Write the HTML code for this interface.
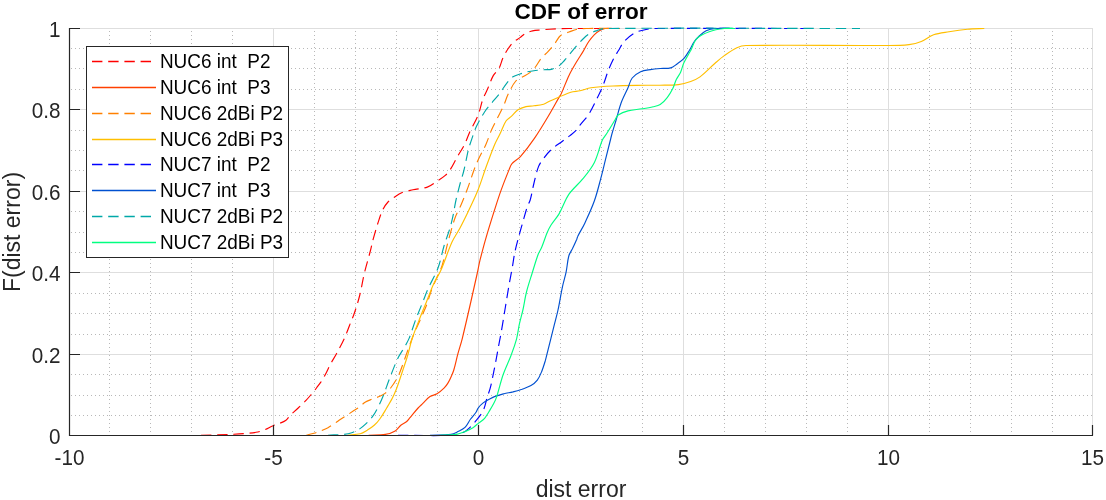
<!DOCTYPE html>
<html><head><meta charset="utf-8"><style>
html,body{margin:0;padding:0;background:#fff;width:1106px;height:500px;overflow:hidden}
svg{display:block;will-change:transform}
text{font-family:"Liberation Sans",sans-serif}
</style></head><body>
<svg width="1106" height="500" viewBox="0 0 1106 500">
<rect width="1106" height="500" fill="#fff"/>
<path d="M109.5,31V436M150.5,31V436M191.5,31V436M232.5,31V436M314.5,31V436M355.5,31V436M396.5,31V436M437.5,31V436M519.5,31V436M560.5,31V436M601.5,31V436M642.5,31V436M724.5,31V436M765.5,31V436M806.5,31V436M847.5,31V436M929.5,31V436M970.5,31V436M1011.5,31V436M1052.5,31V436M71,415.5H1093M71,395.5H1093M71,374.5H1093M71,334.5H1093M71,313.5H1093M71,293.5H1093M71,252.5H1093M71,232.5H1093M71,211.5H1093M71,170.5H1093M71,150.5H1093M71,130.5H1093M71,89.5H1093M71,68.5H1093M71,48.5H1093" stroke="#b8b8b8" stroke-width="1" stroke-dasharray="1,3" fill="none"/>
<path d="M69.5,28V435M273.5,28V435M478.5,28V435M683.5,28V435M888.5,28V435M1092.5,28V435M69,435.5H1093M69,354.5H1093M69,272.5H1093M69,191.5H1093M69,109.5H1093M69,28.5H1093" stroke="#dedede" stroke-width="1" fill="none"/>
<g fill="none" stroke-width="1.15" stroke-linejoin="round">
<path d="M201.0,435.2C212.0,434.9 223.0,434.9 234.0,434.3C241.4,433.9 248.7,433.4 256.0,432.3C258.9,431.9 261.7,430.9 264.5,429.8C267.4,428.7 270.1,426.9 273.0,425.7C274.8,424.9 276.7,424.6 278.5,423.8C281.1,422.7 283.8,421.8 286.0,420.2C287.7,419.0 288.6,417.0 290.0,415.5C291.9,413.6 294.0,411.8 296.0,410.0C297.8,408.3 299.6,406.7 301.4,405.0C303.0,403.5 304.5,402.0 306.0,400.4C307.8,398.5 309.5,396.5 311.2,394.5C313.1,392.2 315.0,389.9 316.8,387.5C318.2,385.7 319.7,383.8 321.0,381.9C322.5,379.6 323.9,377.2 325.2,374.8C327.1,371.3 328.6,367.5 330.5,364.0C332.3,360.7 334.4,357.5 336.2,354.2C339.1,348.9 342.0,343.6 344.5,338.1C346.4,334.0 347.8,329.7 349.5,325.5C351.1,321.3 353.0,317.2 354.4,313.0C356.4,307.1 358.3,301.1 359.8,295.0C361.6,287.9 362.6,280.6 364.3,273.4C366.2,265.5 368.6,257.8 370.6,250.0C371.6,246.1 372.3,242.2 373.4,238.3C375.1,232.3 376.8,226.3 378.8,220.4C380.1,216.4 381.4,212.4 383.3,208.7C384.5,206.3 386.2,204.0 388.0,202.0C389.5,200.4 391.4,199.1 393.2,197.9C396.1,196.0 399.0,193.8 402.2,192.5C405.6,191.1 409.4,190.6 413.0,189.8C417.7,188.8 422.7,188.7 427.3,187.1C430.6,186.0 433.4,183.6 436.3,181.7C439.4,179.7 442.5,177.8 445.3,175.4C447.1,173.9 448.7,172.0 450.0,170.0C452.8,165.6 455.0,160.8 457.6,156.3C459.7,152.6 462.3,149.1 464.2,145.3C466.4,140.8 467.9,136.0 470.0,131.4C472.5,126.0 475.8,120.9 478.0,115.4C480.1,110.2 480.9,104.6 482.8,99.4C484.0,96.2 485.7,93.2 487.1,90.1C489.3,85.2 490.8,80.1 493.4,75.4C494.8,72.8 497.6,71.0 499.0,68.4C500.9,64.9 501.5,60.8 503.2,57.2C504.6,54.3 506.3,51.5 508.1,48.8C509.6,46.6 511.1,44.3 513.0,42.5C515.1,40.5 517.7,39.3 520.0,37.6C521.9,36.2 523.5,34.5 525.6,33.4C527.8,32.2 530.2,31.4 532.6,30.9C535.3,30.3 538.2,30.2 541.0,29.9C543.8,29.6 546.6,29.3 549.4,29.2C555.9,28.9 562.5,28.6 569.0,28.5C579.3,28.4 589.7,28.5 600.0,28.5" stroke="#FF0000" stroke-dasharray="10.4,5.8"/>
<path d="M368.6,435.2C374.2,434.9 379.9,435.3 385.4,434.4C388.8,433.8 392.2,432.7 395.2,430.9C397.5,429.6 398.8,427.0 400.8,425.3C402.5,423.9 404.7,423.2 406.4,421.8C407.8,420.6 408.8,419.0 410.0,417.6C412.7,414.4 415.3,411.1 418.1,408.0C419.5,406.5 421.1,405.1 422.6,403.7C425.1,401.3 427.2,398.5 430.0,396.6C432.1,395.2 434.8,395.1 437.0,393.8C439.6,392.3 441.9,390.3 444.0,388.2C445.6,386.6 447.0,384.6 448.2,382.6C449.3,380.8 450.2,378.9 451.0,377.0C452.0,374.7 453.1,372.4 453.8,370.0C455.4,364.8 456.4,359.4 457.8,354.2C459.2,349.0 460.9,344.0 462.2,338.8C465.2,326.6 468.0,314.3 470.8,302.0C473.0,292.5 475.1,283.0 477.2,273.5C478.2,269.1 478.9,264.6 480.0,260.2C481.9,252.7 483.8,245.2 486.0,237.8C488.8,228.2 491.8,218.7 494.8,209.2C496.9,202.6 499.0,195.9 501.4,189.4C503.8,182.7 506.4,176.2 509.1,169.6C509.9,167.5 510.5,165.3 512.0,163.6C514.4,160.8 518.0,159.3 520.4,156.6C525.5,150.9 530.1,144.7 534.4,138.4C539.4,131.2 543.9,123.6 548.4,116.0C552.3,109.5 555.8,102.9 559.6,96.4C560.1,95.5 560.9,94.6 561.3,93.6C564.0,87.6 566.2,81.3 569.0,75.4C571.1,71.1 573.6,66.9 576.0,62.8C578.2,59.0 580.7,55.4 583.0,51.6C584.9,48.4 586.5,44.9 588.6,41.8C590.3,39.3 592.1,36.9 594.2,34.8C595.8,33.2 597.8,31.8 599.8,30.6C601.4,29.7 603.2,28.8 605.0,28.5C607.6,28.1 610.3,28.5 613.0,28.5" stroke="#FF4000"/>
<path d="M306.3,435.2C308.9,434.6 311.5,434.0 314.0,433.3C316.4,432.6 318.7,431.8 321.0,430.9C323.4,429.9 325.8,428.9 328.0,427.7C330.4,426.4 332.7,424.7 335.0,423.2C336.9,421.9 338.7,420.6 340.6,419.3C342.9,417.8 345.3,416.3 347.6,414.8C349.7,413.4 351.8,412.0 353.9,410.6C356.0,409.2 358.2,407.9 360.2,406.4C361.9,405.1 363.3,403.3 365.1,402.2C367.3,400.9 369.7,400.1 372.1,399.1C374.6,398.1 377.3,397.4 379.8,396.3C381.8,395.4 383.7,394.4 385.4,393.1C387.5,391.5 389.4,389.6 391.0,387.5C393.1,384.9 394.9,382.0 396.6,379.1C397.7,377.3 398.6,375.4 399.4,373.5C402.2,366.4 404.6,359.2 407.2,352.0C409.3,346.2 411.4,340.3 413.7,334.5C415.9,329.0 418.5,323.7 420.9,318.3C422.7,314.1 424.7,310.0 426.3,305.8C428.3,300.5 429.7,294.9 431.7,289.6C433.3,285.3 435.3,281.2 437.1,277.0C438.7,273.3 440.8,269.8 442.0,266.0C444.5,258.1 445.8,250.0 448.0,242.0C450.2,234.0 452.2,225.9 455.0,218.0C456.6,213.5 459.1,209.4 461.0,205.0C463.1,200.1 465.1,195.0 467.0,190.0C469.5,183.4 471.6,176.6 474.0,170.0C475.2,166.7 476.5,163.4 478.0,160.2C480.5,154.8 483.6,149.6 486.0,144.2C488.1,139.5 489.5,134.5 491.6,129.8C493.3,126.0 495.3,122.3 497.2,118.6C499.3,114.3 501.6,110.2 503.6,105.8C505.3,102.0 506.3,98.0 508.1,94.3C510.4,89.7 512.5,84.9 515.8,81.0C517.6,78.9 520.5,78.2 522.8,76.8C525.1,75.4 527.7,74.3 529.8,72.6C531.9,71.0 533.8,69.1 535.4,67.0C537.5,64.4 538.9,61.2 541.0,58.6C543.1,56.0 545.8,54.0 548.0,51.6C550.5,48.9 552.8,46.1 555.0,43.2C557.0,40.7 558.1,37.5 560.6,35.5C563.0,33.6 566.2,33.1 569.0,32.0C571.8,31.0 574.5,29.7 577.4,29.2C581.1,28.5 584.9,28.6 588.6,28.5C599.1,28.3 609.5,28.5 620.0,28.5" stroke="#FF8000" stroke-dasharray="10.4,5.8"/>
<path d="M347.6,435.2C351.8,434.7 356.1,434.7 360.2,433.7C362.7,433.1 365.0,431.5 367.2,430.2C369.6,428.7 372.1,427.2 374.2,425.3C376.3,423.4 378.2,421.3 379.8,419.0C382.4,415.4 384.5,411.6 386.8,407.8C388.7,404.6 390.7,401.3 392.4,398.0C393.7,395.5 394.9,392.9 395.9,390.3C397.2,387.1 398.3,383.8 399.4,380.5C400.6,377.0 401.7,373.5 402.9,370.0C404.4,365.3 406.1,360.7 407.5,356.0C409.2,350.4 410.2,344.6 412.0,339.0C414.1,332.6 416.7,326.4 419.1,320.1C421.4,314.1 423.9,308.2 426.3,302.2C428.7,296.2 430.8,290.1 433.5,284.2C435.7,279.3 438.9,274.9 441.0,270.0C445.0,260.8 447.9,251.1 452.0,242.0C454.2,237.1 457.5,232.7 460.0,228.0C462.8,222.7 465.4,217.4 468.0,212.0C471.4,204.7 475.0,197.5 478.0,190.0C480.7,183.5 482.7,176.7 485.0,170.0C485.6,168.3 486.2,166.7 486.8,165.0C489.4,158.1 491.9,151.0 494.8,144.2C496.4,140.4 498.6,136.8 500.4,133.0C502.3,129.0 503.6,124.7 506.0,121.0C507.4,119.0 509.8,117.9 511.6,116.2C513.8,114.1 515.5,111.5 518.0,109.8C520.4,108.2 523.2,107.3 526.0,106.6C528.6,106.0 531.3,106.2 534.0,105.8C537.2,105.4 540.5,105.1 543.6,104.2C545.9,103.5 547.8,102.0 550.0,101.0C556.9,98.0 563.7,94.6 570.8,92.2C573.7,91.2 577.0,91.5 580.0,90.8C583.7,90.0 587.2,88.3 591.0,87.8C598.3,86.7 605.6,86.3 613.0,86.0C624.0,85.5 635.0,85.5 646.0,85.3C650.7,85.2 655.3,85.3 660.0,85.2C666.1,85.1 672.3,85.3 678.4,84.6C682.6,84.1 686.7,82.9 690.7,81.5C694.0,80.3 697.2,79.0 700.0,76.9C705.5,72.8 710.1,67.5 715.3,63.0C718.3,60.4 721.3,57.7 724.6,55.4C728.5,52.6 732.5,49.7 736.9,47.7C739.7,46.4 742.9,45.5 746.0,45.5C793.5,44.8 841.0,45.8 888.5,45.5C895.3,45.5 902.2,45.4 909.0,44.6C913.2,44.1 917.4,43.1 921.3,41.5C925.6,39.8 929.2,36.4 933.6,34.8C938.5,33.1 943.8,32.6 949.0,31.7C955.1,30.7 961.2,29.8 967.4,29.2C973.0,28.7 978.7,28.7 984.3,28.5" stroke="#FFBF00"/>
<path d="M398.0,435.2C415.7,435.2 433.4,436.0 451.0,435.2C455.3,435.0 459.6,433.9 463.6,432.3C465.8,431.5 467.5,429.7 469.2,428.1C471.7,425.7 474.0,423.1 476.2,420.4C478.7,417.3 481.5,414.2 483.2,410.6C485.3,406.2 485.9,401.3 487.4,396.6C488.3,393.8 489.5,391.1 490.2,388.2C491.6,382.9 492.5,377.5 493.7,372.1C494.1,370.0 494.6,367.9 495.0,365.8C496.2,359.2 497.4,352.6 498.6,346.0C499.5,341.2 500.5,336.4 501.3,331.6C502.6,324.4 503.7,317.2 504.9,310.0C506.4,301.0 507.8,292.0 509.4,283.0C510.2,278.2 511.3,273.4 512.1,268.6C513.1,263.2 513.7,257.8 514.8,252.4C515.8,247.6 517.1,242.8 518.4,238.0C519.8,232.6 521.4,227.2 522.9,221.8C524.3,216.9 525.6,211.9 527.2,207.0C528.0,204.6 529.5,202.4 530.2,200.0C531.8,194.4 532.6,188.6 534.0,183.0C535.4,177.4 536.5,171.7 538.6,166.4C539.8,163.3 542.0,160.7 544.0,158.0C546.2,155.0 548.5,152.1 551.2,149.6C554.6,146.5 558.7,144.0 562.4,141.2C564.9,139.3 567.5,137.6 570.0,135.6C572.7,133.4 575.4,131.3 577.8,128.8C578.8,127.8 579.2,126.3 580.0,125.2C582.8,121.4 586.3,118.2 588.8,114.2C592.2,108.9 594.7,103.1 597.5,97.5C599.7,93.1 601.8,88.6 603.6,84.0C605.4,79.4 606.6,74.6 608.5,70.0C610.3,65.6 612.3,61.2 614.5,57.0C615.7,54.7 617.2,52.7 618.5,50.5C620.3,47.5 621.6,44.2 624.0,41.6C627.2,38.2 630.9,35.1 635.0,32.8C638.4,31.0 642.2,30.2 646.0,29.5C649.6,28.8 653.3,28.5 657.0,28.5C709.7,28.2 762.3,28.5 815.0,28.5" stroke="#0000FF" stroke-dasharray="10.4,5.8"/>
<path d="M430.0,435.2C437.0,434.9 444.1,435.3 451.0,434.4C453.5,434.1 455.8,432.7 458.0,431.6C460.4,430.4 463.1,429.3 465.0,427.4C467.4,425.0 468.6,421.7 470.6,419.0C472.4,416.6 474.5,414.5 476.2,412.0C477.1,410.7 477.3,409.0 478.3,407.8C479.7,406.0 481.4,404.3 483.2,402.9C485.4,401.2 487.8,400.0 490.2,398.7C491.8,397.8 493.3,397.0 495.0,396.4C497.9,395.3 501.0,394.5 504.0,393.7C507.0,393.0 510.0,392.6 513.0,391.9C516.0,391.1 519.0,390.2 522.0,389.2C525.0,388.1 528.2,387.2 531.0,385.6C533.4,384.2 535.6,382.4 537.3,380.2C539.3,377.5 540.5,374.3 541.8,371.2C543.2,367.7 544.3,364.0 545.4,360.4C546.4,356.8 547.2,353.2 548.1,349.6C549.0,346.0 549.9,342.4 550.8,338.8C552.0,334.0 553.2,329.2 554.4,324.4C555.6,319.6 557.0,314.8 558.0,310.0C559.7,302.2 560.8,294.4 562.5,286.6C563.5,281.8 565.1,277.0 566.1,272.2C567.2,266.8 567.4,261.3 568.8,256.0C569.5,253.4 571.2,251.2 572.4,248.8C573.9,245.6 575.4,242.4 576.8,239.2C577.2,238.2 577.3,237.1 577.8,236.2C580.0,231.8 582.7,227.7 584.8,223.2C588.2,215.8 591.7,208.5 594.4,200.8C597.0,193.5 598.8,185.9 600.8,178.4C602.5,172.0 604.0,165.6 605.6,159.2C607.2,152.8 608.8,146.4 610.4,140.0C610.9,138.0 611.3,136.0 611.9,134.0C613.2,129.3 614.7,124.7 616.1,120.0C617.8,114.4 619.0,108.7 621.0,103.2C623.0,97.9 625.7,93.0 628.0,87.8C629.4,84.6 630.0,80.8 632.2,78.0C634.4,75.2 637.4,73.2 640.6,71.7C643.6,70.3 647.1,70.1 650.4,69.6C653.6,69.1 656.9,68.8 660.2,68.5C663.7,68.2 667.3,68.8 670.7,67.9C673.1,67.3 675.0,65.4 677.0,64.0C679.4,62.3 682.0,60.6 684.0,58.4C686.3,55.9 687.8,52.9 689.6,50.0C691.2,47.4 692.3,44.5 694.0,42.0C695.4,40.0 697.0,38.2 698.8,36.5C701.1,34.4 703.3,32.1 706.1,30.8C709.2,29.4 712.6,28.8 716.0,28.5C720.6,28.1 725.3,28.5 730.0,28.5" stroke="#0050D0"/>
<path d="M328.0,435.2C333.1,434.9 338.3,434.9 343.4,434.4C346.2,434.1 349.1,433.6 351.8,432.7C354.2,431.9 356.6,430.9 358.8,429.5C361.3,427.9 363.6,426.0 365.8,423.9C368.3,421.5 370.8,419.0 372.8,416.2C375.0,413.1 376.7,409.8 378.4,406.4C380.5,402.3 382.3,398.1 384.0,393.8C386.0,388.7 387.6,383.5 389.6,378.4C392.3,371.6 394.9,364.6 398.0,358.0C399.7,354.5 402.1,351.4 404.0,348.0C405.8,344.8 407.8,341.5 409.2,338.1C411.6,332.2 413.3,326.1 415.5,320.1C417.8,314.1 420.3,308.2 422.7,302.2C424.5,297.7 426.1,293.1 428.1,288.7C431.2,281.7 435.3,275.2 438.0,268.0C440.7,260.9 441.8,253.3 444.0,246.0C445.8,239.9 448.2,234.1 450.0,228.0C451.2,224.1 452.1,220.0 453.0,216.0C454.1,210.7 454.8,205.3 456.0,200.0C457.2,194.6 458.6,189.3 460.0,184.0C461.3,179.3 462.9,174.7 464.0,170.0C465.7,162.9 466.9,155.7 468.6,148.6C468.9,147.1 469.5,145.7 470.0,144.2C472.1,138.3 473.8,132.3 476.4,126.6C478.7,121.6 481.4,116.8 484.4,112.2C487.2,107.9 490.8,104.2 494.0,100.2C495.6,98.2 497.4,96.4 499.0,94.3C501.9,90.4 504.4,86.2 507.4,82.4C509.0,80.3 510.8,78.3 513.0,76.8C515.1,75.4 517.6,74.8 520.0,74.0C522.3,73.2 524.6,72.4 527.0,71.9C529.8,71.3 532.6,70.9 535.4,70.5C538.2,70.2 541.0,70.0 543.8,69.8C546.6,69.6 549.5,69.8 552.2,69.1C554.7,68.4 557.1,67.1 559.2,65.6C561.3,64.1 563.0,61.9 564.8,60.0C566.3,58.4 567.6,56.8 569.0,55.1C570.9,52.8 572.6,50.4 574.6,48.1C577.3,45.0 580.0,41.9 583.0,39.0C585.2,36.9 587.4,34.9 590.0,33.4C592.2,32.1 594.6,31.4 597.0,30.6C599.6,29.7 602.2,28.5 605.0,28.5C690.0,27.8 775.0,28.5 860.0,28.5" stroke="#00A8A8" stroke-dasharray="10.4,5.8"/>
<path d="M439.8,435.2C445.4,434.9 451.1,435.2 456.6,434.4C459.5,434.0 462.3,432.7 465.0,431.6C467.9,430.4 470.7,429.0 473.4,427.4C475.0,426.4 476.2,425.0 477.6,423.9C479.9,422.0 482.6,420.5 484.6,418.3C486.3,416.5 487.5,414.1 488.8,412.0C490.5,409.2 492.2,406.5 493.7,403.6C494.9,401.3 496.0,398.9 496.8,396.4C499.1,389.3 500.6,381.9 503.1,374.8C505.4,368.1 508.7,361.7 511.2,355.0C513.2,349.7 515.1,344.3 516.6,338.8C517.8,334.1 518.3,329.2 519.3,324.4C520.4,319.6 521.8,314.8 522.9,310.0C524.2,304.0 525.0,297.9 526.5,292.0C528.0,285.9 530.0,280.0 531.9,274.0C533.9,267.4 535.8,260.7 538.2,254.2C539.1,251.7 540.8,249.5 541.8,247.0C543.8,242.3 545.2,237.3 547.2,232.6C548.3,229.9 549.6,227.3 551.2,224.8C553.6,220.9 556.9,217.6 559.2,213.6C562.8,207.4 564.8,200.3 568.8,194.4C572.8,188.5 578.7,184.0 583.2,178.4C587.3,173.3 591.5,168.2 594.4,162.4C597.9,155.3 599.3,147.3 602.4,140.0C603.3,137.8 605.1,136.0 606.4,134.0C609.5,129.1 612.4,124.2 615.4,119.3C616.3,117.9 616.8,116.0 618.2,115.1C621.2,113.1 624.6,111.8 628.0,110.9C632.6,109.7 637.3,109.6 642.0,108.8C645.7,108.2 649.5,107.6 653.2,106.7C655.6,106.2 658.2,105.9 660.2,104.6C663.0,102.8 665.2,100.2 667.2,97.6C669.4,94.8 671.2,91.7 672.8,88.5C674.3,85.6 674.9,82.3 676.3,79.4C677.5,76.9 679.4,74.9 680.5,72.4C681.9,69.2 682.5,65.7 684.0,62.6C686.0,58.2 688.7,54.2 691.0,50.0C693.0,46.2 693.8,41.5 696.9,38.4C700.2,35.1 704.8,33.3 709.2,31.7C714.1,29.9 719.4,29.1 724.6,28.5C728.0,28.1 731.5,28.5 735.0,28.5" stroke="#00FF80"/>
</g>
<path d="M69.5,28V435.5H1093M69.5,435.5V425M273.5,435.5V425M478.5,435.5V425M683.5,435.5V425M888.5,435.5V425M1092.5,435.5V425M69.5,435.5H80M69.5,354.5H80M69.5,272.5H80M69.5,191.5H80M69.5,109.5H80M69.5,28.5H80" stroke="#262626" stroke-width="1.2" fill="none"/>
<g fill="#262626" font-size="22">
<text transform="translate(69.5,465) scale(0.94,1)" text-anchor="middle">-10</text>
<text transform="translate(273.5,465) scale(0.94,1)" text-anchor="middle">-5</text>
<text transform="translate(478.5,465) scale(0.94,1)" text-anchor="middle">0</text>
<text transform="translate(683.5,465) scale(0.94,1)" text-anchor="middle">5</text>
<text transform="translate(888.5,465) scale(0.94,1)" text-anchor="middle">10</text>
<text transform="translate(1092.5,465) scale(0.94,1)" text-anchor="middle">15</text>
<text transform="translate(60.5,443.50) scale(0.94,1)" text-anchor="end">0</text>
<text transform="translate(60.5,362.50) scale(0.94,1)" text-anchor="end">0.2</text>
<text transform="translate(60.5,280.50) scale(0.94,1)" text-anchor="end">0.4</text>
<text transform="translate(60.5,199.50) scale(0.94,1)" text-anchor="end">0.6</text>
<text transform="translate(60.5,117.50) scale(0.94,1)" text-anchor="end">0.8</text>
<text transform="translate(60.5,36.50) scale(0.94,1)" text-anchor="end">1</text>
</g>
<text x="581" y="496.5" text-anchor="middle" font-size="23" fill="#262626">dist error</text>
<text x="20" y="232" text-anchor="middle" font-size="23" fill="#262626" transform="rotate(-90 20 232)">F(dist error)</text>
<text x="581" y="19" text-anchor="middle" font-size="22.6" font-weight="bold" fill="#000">CDF of error</text>
<g font-size="19.8" fill="#000">
<rect x="86.5" y="46.5" width="202.0" height="211.0" fill="#fff" stroke="#262626" stroke-width="1"/>
<path d="M92,61.50H151" stroke="#FF0000" stroke-width="1.3" stroke-dasharray="10.4,5.8"/>
<text x="0" y="68.30" transform="translate(159.9,0) scale(0.958,1)" xml:space="preserve">NUC6 int  P2</text>
<path d="M92,87.50H156" stroke="#FF4000" stroke-width="1.3"/>
<text x="0" y="94.30" transform="translate(159.9,0) scale(0.958,1)" xml:space="preserve">NUC6 int  P3</text>
<path d="M92,113.50H151" stroke="#FF8000" stroke-width="1.3" stroke-dasharray="10.4,5.8"/>
<text x="0" y="120.30" transform="translate(159.9,0) scale(0.958,1)" xml:space="preserve">NUC6 2dBi P2</text>
<path d="M92,139.50H156" stroke="#FFBF00" stroke-width="1.3"/>
<text x="0" y="146.30" transform="translate(159.9,0) scale(0.958,1)" xml:space="preserve">NUC6 2dBi P3</text>
<path d="M92,164.50H151" stroke="#0000FF" stroke-width="1.3" stroke-dasharray="10.4,5.8"/>
<text x="0" y="171.30" transform="translate(159.9,0) scale(0.958,1)" xml:space="preserve">NUC7 int  P2</text>
<path d="M92,190.50H156" stroke="#0050D0" stroke-width="1.3"/>
<text x="0" y="197.30" transform="translate(159.9,0) scale(0.958,1)" xml:space="preserve">NUC7 int  P3</text>
<path d="M92,216.50H151" stroke="#00A8A8" stroke-width="1.3" stroke-dasharray="10.4,5.8"/>
<text x="0" y="223.30" transform="translate(159.9,0) scale(0.958,1)" xml:space="preserve">NUC7 2dBi P2</text>
<path d="M92,242.50H156" stroke="#00FF80" stroke-width="1.3"/>
<text x="0" y="249.30" transform="translate(159.9,0) scale(0.958,1)" xml:space="preserve">NUC7 2dBi P3</text>
</g>
</svg>
</body></html>
